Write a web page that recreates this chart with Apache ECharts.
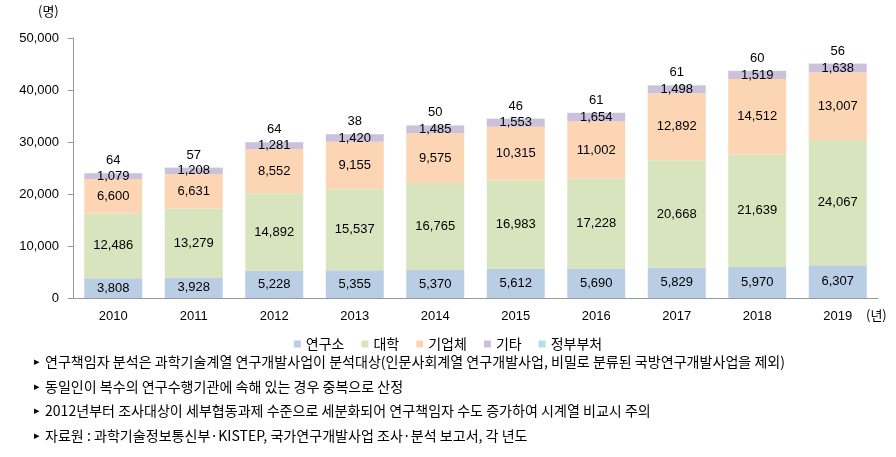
<!DOCTYPE html>
<html><head><meta charset="utf-8">
<script src="https://cdn.jsdelivr.net/npm/echarts@6/dist/echarts.min.js"></script>
<style>html,body{margin:0;padding:0;background:#fff}#c{width:896px;height:457px}</style>
</head><body><div id="c"></div>
<script>
const years = ['2010','2011','2012','2013','2014','2015','2016','2017','2018','2019'];
const seriesNames = ['연구소','대학','기업체','기타','정부부처'];
const research = [3808,3928,5228,5355,5370,5612,5690,5829,5970,6307];
const univ = [12486,13279,14892,15537,16765,16983,17228,20668,21639,24067];
const company = [6600,6631,8552,9155,9575,10315,11002,12892,14512,13007];
const etc = [1079,1208,1281,1420,1485,1553,1654,1498,1519,1638];
const gov = [64,57,64,38,50,46,61,61,60,56];
const yTicks = [0,10000,20000,30000,40000,50000];
const notes = [
 '연구책임자 분석은 과학기술계열 연구개발사업이 분석대상(인문사회계열 연구개발사업, 비밀로 분류된 국방연구개발사업을 제외)',
 '동일인이 복수의 연구수행기관에 속해 있는 경우 중복으로 산정',
 '2012년부터 조사대상이 세부협동과제 수준으로 세분화되어 연구책임자 수도 증가하여 시계열 비교시 주의',
 '자료원 : 과학기술정보통신부·KISTEP, 국가연구개발사업 조사·분석 보고서, 각 년도'
];
const colors = ['#B9CDE5','#D7E4BD','#FCD5B5','#CCC1DA','#B7DEE8'];
const values = [research, univ, company, etc, gov];

const fmt = v => v.toLocaleString('en-US');
const noteFont = '"Noto Sans CJK KR", sans-serif';
const ctx = document.createElement('canvas').getContext('2d');
ctx.font = '14px ' + noteFont;
const w0 = ctx.measureText(notes[0]).width;
const sx = 740 / w0;

const chart = echarts.init(document.getElementById('c'));
const series = seriesNames.map((n, i) => ({
  name: n, type: 'bar', stack: 'a', data: values[i],
  barCategoryGap: '28%',
  itemStyle: { color: colors[i] },
  label: {
    show: true,
    position: i === 4 ? 'top' : 'inside',
    formatter: p => fmt(p.value),
    color: '#000', fontSize: 13, fontFamily: 'Liberation Sans, sans-serif',
    distance: i === 4 ? 6 : 5
  }
}));
const graphics = [
  { type: 'text', left: 38, top: 5, style: { text: '(명)', font: '13px "Noto Sans CJK KR"', fill: '#000' } },
  { type: 'text', left: 866, top: 309, style: { text: '(년)', font: '13px "Noto Sans CJK KR"', fill: '#000' } }
];
notes.forEach((t, i) => {
  graphics.push({ type: 'text', x: 34, y: 357 + i * 24.5, style: { text: '▸', font: '11px "DejaVu Sans"', fill: '#000' } });
  graphics.push({ type: 'text', x: 45, y: 355 + i * 24.5, scaleX: sx, style: { text: t, font: '14px ' + noteFont, fill: '#000' } });
});
chart.setOption({
  animation: false,
  grid: { left: 73, right: 18, top: 38, bottom: 159 },
  legend: {
    data: seriesNames, top: 332, left: 'center',
    itemWidth: 7, itemHeight: 7, itemGap: 17, icon: 'rect',
    textStyle: { fontSize: 14, color: '#000', fontFamily: '"Noto Sans CJK KR"' }
  },
  xAxis: {
    type: 'category', data: years,
    axisLine: { lineStyle: { color: '#999' } },
    axisTick: { length: 5, lineStyle: { color: '#999' } },
    axisLabel: { color: '#000', fontSize: 13, margin: 12, fontFamily: 'Liberation Sans, sans-serif' }
  },
  yAxis: {
    type: 'value', min: 0, max: 50000, interval: 10000,
    splitLine: { show: false },
    axisLine: { show: true, lineStyle: { color: '#999' } },
    axisTick: { show: true, length: 5, lineStyle: { color: '#999' } },
    axisLabel: { color: '#000', fontSize: 13, margin: 14, formatter: v => fmt(v), fontFamily: 'Liberation Sans, sans-serif' }
  },
  series: series,
  graphic: graphics
});
</script></body></html>
